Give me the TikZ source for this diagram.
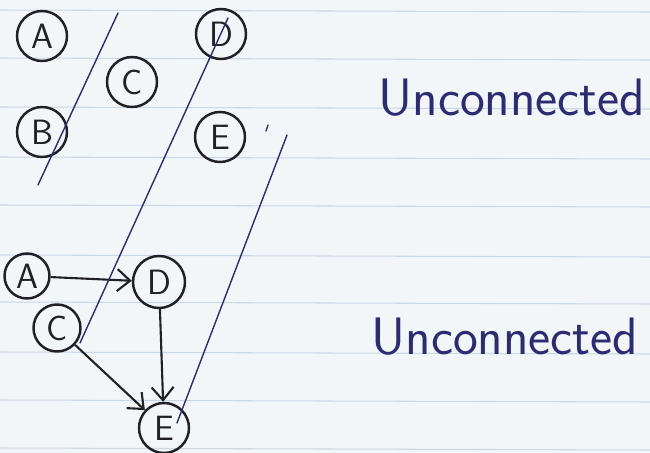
\documentclass[tikz,border=0pt]{standalone}
\usepackage{tikz}
\usetikzlibrary{arrows.meta}
\definecolor{paper}{RGB}{243,246,249}
\definecolor{ruling}{RGB}{203,215,226}
\definecolor{pen}{RGB}{32,32,38}
\definecolor{ink}{RGB}{46,44,112}
\tikzset{
  vertex/.style={circle, draw=pen, line width=1.4pt, minimum size=1.0cm, inner sep=0pt,
    text=pen, font=\fontsize{20}{20}\sffamily},
  cut/.style={ink, line width=0.8pt, line cap=round},
  edge/.style={pen, line width=1.2pt, -{Straight Barb[length=2.6mm, width=4.4mm]}}
}

\begin{document}
\begin{tikzpicture}[x=0.02cm, y=-0.02cm]
  % paper and its ruled lines
  \useasboundingbox (0,0) rectangle (650,453);
  \fill[paper] (0,0) rectangle (650,453);
  \foreach \y in {10,58,107,157,205,255,302,352,400,448}
    \draw[ruling, line width=0.6pt] (0,\y) -- (650,\y+2);

  % five separate vertices
  \node[vertex] (A1) at (42,36) {A};
  \node[vertex] (C1) at (132,82) {C};
  \node[vertex] (B1) at (42,132) {B};
  \node[vertex] (D1) at (221,34) {D};
  \node[vertex] (E1) at (220,137) {E};

  % directed graph
  \node[vertex, minimum size=0.9cm] (A2) at (27,276) {A};
  \node[vertex, minimum size=1.04cm] (D2) at (159,282) {D};
  \node[vertex, minimum size=0.94cm] (C2) at (57,328) {C};
  \node[vertex] (E2) at (164,428) {E};
  \draw[edge] (A2) -- (D2);
  \draw[edge] (D2) -- (E2);
  \draw[edge] (C2) -- (E2);

  % strokes joining the two pictures
  \coordinate (top1) at (118,13);
  \coordinate (end1) at (38,185);
  \coordinate (top2) at (228,18);
  \coordinate (end2) at (80,343);
  \coordinate (top3) at (287,135);
  \coordinate (end3) at (177,423);
  \draw[cut] (top1) -- (end1);
  \draw[cut] (top2) -- (end2);
  \draw[cut] (top3) -- (end3);
  \draw[cut] (268,125) -- (266,131);

  \node[ink, font=\fontsize{30}{30}\sffamily] (unc1) at (512,98) {Unconnected};
  \node[ink, font=\fontsize{30}{30}\sffamily] (unc2) at (505,337) {Unconnected};
\end{tikzpicture}
\end{document}
